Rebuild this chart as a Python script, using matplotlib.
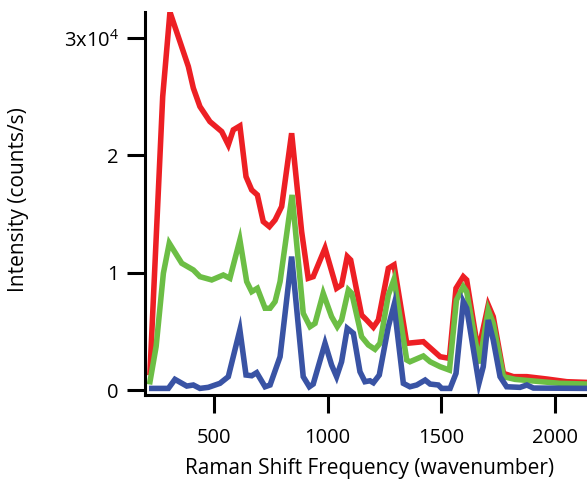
import matplotlib
matplotlib.use("Agg")
import matplotlib.pyplot as plt

# Red series
red_x = [218, 274, 306, 387, 409, 438, 482, 534, 563, 585, 614, 641, 666, 691, 717, 744, 769, 798,
         842, 886, 915, 937, 989, 1040, 1062, 1087, 1102, 1150, 1172, 1202, 1224, 1268, 1293, 1349,
         1422, 1496, 1537, 1566, 1598, 1613, 1664, 1708, 1730, 1775, 1819, 1878, 1966, 2054, 2143]
red_y = [1500, 25000, 32200, 27560, 25720, 24150, 22870, 22020, 20890, 22165, 22500, 18180, 17050,
         16620, 14350, 13920, 14490, 15630, 21880, 13500, 9520, 9660, 12080, 8670, 8950, 11370, 11080,
         6390, 5970, 5350, 5970, 10370, 10660, 3980, 4120, 2840, 2700, 8670, 9660, 9380, 3270, 7250,
         6250, 1420, 1140, 1140, 940, 710, 650]

# Green series
green_x = [218, 245, 277, 303, 358, 409, 438, 490, 541, 570, 614, 644, 666, 691, 725, 747, 769, 791,
           844, 893, 923, 945, 981, 1018, 1043, 1062, 1092, 1107, 1150, 1180, 1209, 1231, 1268, 1293,
           1349, 1363, 1422, 1452, 1496, 1537, 1568, 1598, 1613, 1669, 1708, 1730, 1775, 1826, 1907,
           2024, 2143]
green_y = [710, 3700, 9950, 12510, 10800, 10230, 9660, 9380, 9800, 9520, 12790, 9240, 8380, 8670, 6970,
           6970, 7530, 9240, 16620, 6540, 5400, 5680, 8240, 6250, 5400, 5970, 8530, 8240, 4550, 3840,
           3470, 3980, 8100, 9440, 2560, 2410, 2900, 2410, 1990, 1700, 7670, 8810, 8380, 2270, 6820,
           5680, 1140, 910, 770, 570, 510]

# Blue series
blue_x = [226, 299, 328, 380, 409, 438, 475, 526, 563, 614, 641, 666, 688, 725, 747, 791, 842, 893,
          920, 937, 989, 1018, 1040, 1062, 1087, 1114, 1143, 1165, 1187, 1202, 1228, 1268, 1293, 1334,
          1363, 1393, 1430, 1452, 1488, 1503, 1540, 1566, 1598, 1613, 1667, 1686, 1708, 1730, 1760,
          1789, 1848, 1878, 1907, 2143]
blue_y = [140, 140, 910, 340, 430, 140, 230, 570, 1140, 5120, 1280, 1220, 1480, 280, 430, 2840, 11370,
          1140, 280, 510, 3980, 2130, 1140, 2410, 5260, 4830, 1560, 710, 790, 620, 1280, 5400, 7250,
          570, 280, 430, 850, 510, 430, 140, 140, 1420, 7530, 6970, 570, 1990, 5970, 4260, 1140, 280,
          230, 430, 170, 140]

y_ticks = [0, 10000, 20000, 30000]
y_tick_labels = ["0", "1", "2", "3x10$^4$"]
x_ticks = [500, 1000, 1500, 2000]
x_tick_labels = ["500", "1000", "1500", "2000"]

plt.rcParams['font.family'] = ['Open Sans', 'DejaVu Sans']
plt.rcParams['mathtext.fontset'] = 'custom'
plt.rcParams['mathtext.rm'] = 'Open Sans'
plt.rcParams['mathtext.it'] = 'Open Sans'

fig = plt.figure(figsize=(5.87, 4.83), dpi=100)
ax = fig.add_axes([0.247, 0.182, 0.753, 0.793])

lw = 4.0
ax.plot(red_x, red_y, color='#ED1F24', lw=lw, solid_joinstyle='miter')
ax.plot(green_x, green_y, color='#6CBE45', lw=lw, solid_joinstyle='miter')
ax.plot(blue_x, blue_y, color='#3953A4', lw=lw, solid_joinstyle='miter')

ax.set_xlim(196, 2143)
ax.set_ylim(-430, 32200)

for s in ['top', 'right']:
    ax.spines[s].set_visible(False)
for s in ['left', 'bottom']:
    ax.spines[s].set_linewidth(2.2)

ax.set_xticks(x_ticks)
ax.set_xticklabels(x_tick_labels)
ax.set_yticks(y_ticks)
ax.set_yticklabels(y_tick_labels)
ax.tick_params(axis='both', direction='out', length=13, width=2.2, labelsize=14.5)
ax.tick_params(axis='x', pad=11)
ax.tick_params(axis='y', pad=6)

ax.set_xlabel("Raman Shift Frequency (wavenumber)", fontsize=15)
ax.set_ylabel("Intensity (counts/s)", fontsize=15)
ax.xaxis.set_label_coords(0.509, -0.165)
ax.yaxis.set_label_coords(-0.262, 0.51)

fig.savefig("out.png", dpi=100)
